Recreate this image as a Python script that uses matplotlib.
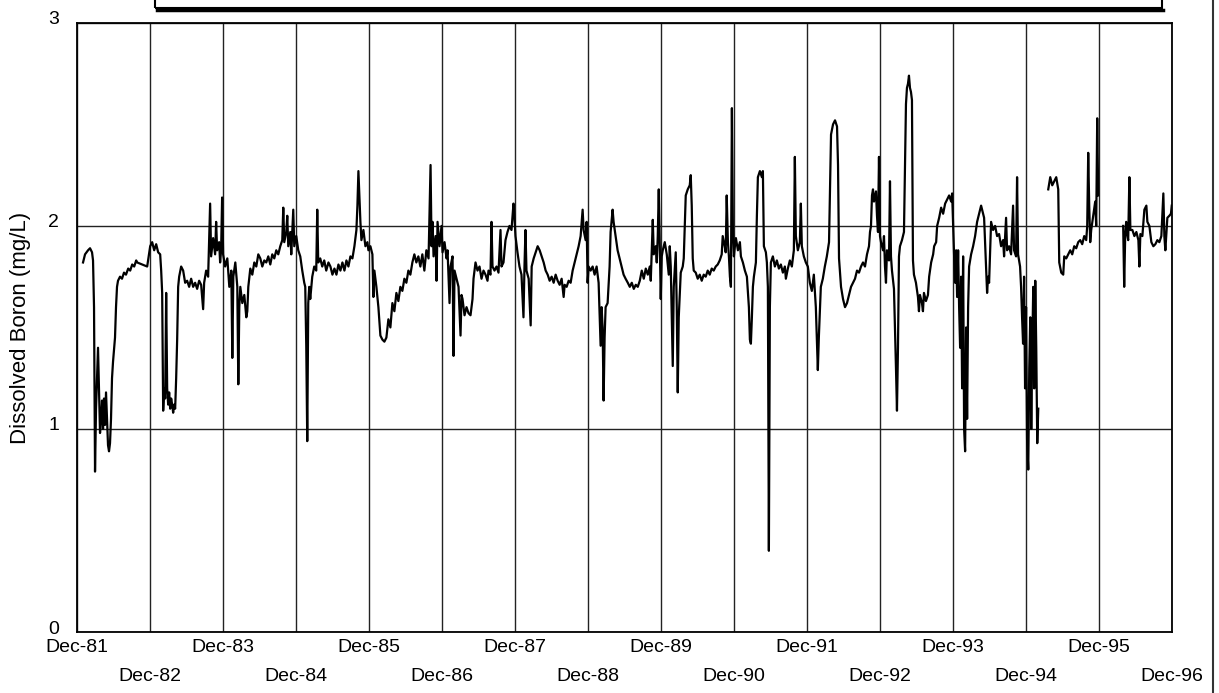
import numpy as np
import matplotlib
matplotlib.use("Agg")
import matplotlib.pyplot as plt
import matplotlib.dates as mdates
from matplotlib.patches import Rectangle
from matplotlib.lines import Line2D
from matplotlib.transforms import ScaledTranslation

plt.rcParams['font.family'] = ['Liberation Sans', 'DejaVu Sans']

# days after 1 Dec 1981 (nan = gap in record)
days = [
    30, 40, 55, 65, 75, 80, 85, 90, 95, 105, 110, 115,
    120, 125, 130, 135, 140, 145, 150, 155, 160, 165, 170, 175,
    180, 185, 190, 195, 200, 205, 215, 225, 235, 245, 256, 266,
    276, 286, 296, 301, 351, 366, 376, 386, 396, 406, 416, 421,
    426, 431, 436, 441, 446, 451, 456, 461, 466, 471, 476, 481,
    486, 491, 496, 501, 506, 511, 521, 531, 541, 551, 561, 571,
    581, 591, 601, 611, 621, 631, 636, 646, 656, 666, 671, 681,
    691, 696, 701, 711, 716, 721, 726, 731, 741, 752, 762, 772,
    777, 782, 792, 802, 807, 812, 817, 827, 837, 847, 852, 857,
    867, 877, 887, 897, 907, 917, 927, 937, 947, 957, 967, 977,
    987, 997, 1007, 1017, 1027, 1032, 1037, 1047, 1052, 1057, 1067, 1072,
    1082, 1087, 1097, 1107, 1117, 1127, 1137, 1142, 1147, 1152, 1157, 1162,
    1167, 1177, 1187, 1197, 1202, 1207, 1217, 1227, 1237, 1247, 1258, 1268,
    1278, 1288, 1298, 1308, 1318, 1328, 1338, 1348, 1358, 1368, 1378, 1388,
    1398, 1403, 1408, 1413, 1418, 1423, 1433, 1443, 1453, 1458, 1468, 1478,
    1483, 1488, 1498, 1508, 1518, 1528, 1538, 1548, 1558, 1568, 1578, 1588,
    1598, 1608, 1618, 1628, 1638, 1648, 1658, 1668, 1678, 1688, 1698, 1708,
    1718, 1728, 1738, 1748, 1759, 1769, 1774, 1779, 1784, 1794, 1799, 1804,
    1814, 1824, 1829, 1839, 1849, 1854, 1864, 1869, 1879, 1884, 1889, 1899,
    1909, 1919, 1924, 1929, 1939, 1949, 1959, 1969, 1979, 1984, 1994, 2004,
    2014, 2024, 2034, 2044, 2054, 2059, 2069, 2074, 2079, 2089, 2099, 2109,
    2119, 2124, 2134, 2144, 2154, 2164, 2174, 2184, 2189, 2194, 2204, 2214,
    2224, 2234, 2239, 2244, 2249, 2260, 2270, 2275, 2285, 2295, 2305, 2315,
    2325, 2335, 2345, 2355, 2365, 2375, 2385, 2395, 2405, 2415, 2425, 2435,
    2440, 2450, 2460, 2470, 2480, 2490, 2500, 2510, 2520, 2530, 2535, 2545,
    2550, 2555, 2560, 2570, 2580, 2590, 2600, 2610, 2620, 2625, 2630, 2635,
    2640, 2645, 2655, 2665, 2670, 2680, 2685, 2695, 2705, 2715, 2725, 2735,
    2745, 2756, 2766, 2776, 2786, 2796, 2806, 2816, 2826, 2836, 2846, 2856,
    2866, 2871, 2881, 2886, 2896, 2901, 2906, 2911, 2916, 2921, 2926, 2931,
    2941, 2951, 2961, 2966, 2971, 2981, 2986, 2996, 3001, 3006, 3011, 3021,
    3031, 3036, 3046, 3056, 3066, 3071, 3076, 3081, 3086, 3096, 3106, 3116,
    3126, 3136, 3146, 3156, 3166, 3176, 3186, 3196, 3206, 3216, 3226, 3231,
    3241, 3246, 3251, 3257, 3262, 3267, 3272, 3277, 3282, 3287, 3292, 3297,
    3307, 3317, 3322, 3332, 3342, 3352, 3362, 3367, 3372, 3377, 3382, 3387,
    3397, 3402, 3407, 3417, 3427, 3432, 3437, 3447, 3452, 3457, 3462, 3467,
    3472, 3482, 3492, 3502, 3512, 3522, 3532, 3542, 3547, 3557, 3567, 3577,
    3587, 3592, 3597, 3607, 3617, 3622, 3627, 3637, 3647, 3657, 3667, 3677,
    3687, 3697, 3707, 3712, 3722, 3732, 3742, 3752, 3763, 3773, 3783, 3793,
    3803, 3808, 3813, 3823, 3833, 3843, 3853, 3863, 3873, 3883, 3893, 3903,
    3913, 3923, 3933, 3943, 3953, 3963, 3968, 3973, 3978, 3983, 3988, 3998,
    4003, 4008, 4013, 4018, 4023, 4033, 4038, 4043, 4048, 4053, 4063, 4068,
    4073, 4078, 4088, 4093, 4098, 4103, 4108, 4113, 4118, 4128, 4138, 4148,
    4153, 4158, 4163, 4168, 4173, 4178, 4183, 4188, 4198, 4208, 4213, 4218,
    4228, 4233, 4238, 4248, 4258, 4264, 4274, 4284, 4289, 4299, 4304, 4314,
    4324, 4334, 4344, 4354, 4364, 4374, 4379, 4384, 4389, 4394, 4399, 4404,
    4409, 4414, 4419, 4424, 4429, 4434, 4439, 4444, 4449, 4454, 4459, 4464,
    4474, 4484, 4494, 4504, 4514, 4524, 4529, 4539, 4549, 4554, 4559, 4564,
    4574, 4584, 4594, 4604, 4614, 4624, 4634, 4639, 4649, 4654, 4664, 4674,
    4684, 4689, 4699, 4704, 4709, 4719, 4724, 4729, 4734, 4739, 4744, 4749,
    4754, 4760, 4765, 4770, 4775, 4780, 4785, 4790, 4795, 4800, 4805, 4810,
    4835,
    4860, 4870, 4880, 4890, 4900, 4910, 4915, 4925, 4935, 4940, 4950, 4960,
    4970, 4980, 4990, 5000, 5010, 5020, 5030, 5040, 5050, 5055, 5060, 5065,
    5070, 5075, 5085, 5095, 5100, 5105, 5110,
    5170,
    5235, 5240, 5245, 5250, 5255, 5260, 5266, 5271, 5281, 5291, 5301, 5311,
    5316, 5321, 5331, 5341, 5351, 5356, 5366, 5376, 5386, 5396, 5406, 5416,
    5426, 5436, 5441, 5446, 5456, 5466, 5474, 5478,
]

# dissolved boron, mg/L
boron = [
    1.82, 1.86, 1.88, 1.89, 1.87, 1.83, 1.60, 0.79, 1.10, 1.40, 1.20, 0.98,
    1.05, 1.14, 1.00, 1.15, 1.02, 1.18, 1.05, 0.92, 0.89, 0.93, 1.05, 1.25,
    1.33, 1.39, 1.45, 1.60, 1.70, 1.73, 1.75, 1.74, 1.77, 1.76, 1.79, 1.78,
    1.81, 1.80, 1.83, 1.82, 1.80, 1.90, 1.92, 1.88, 1.91, 1.87, 1.86, 1.78,
    1.67, 1.09, 1.20, 1.15, 1.67, 1.20, 1.12, 1.18, 1.10, 1.15, 1.12, 1.08,
    1.12, 1.10, 1.25, 1.44, 1.70, 1.75, 1.80, 1.78, 1.72, 1.73, 1.70, 1.74,
    1.70, 1.72, 1.69, 1.73, 1.71, 1.59, 1.72, 1.78, 1.75, 2.11, 1.85, 1.94,
    1.86, 2.02, 1.88, 1.92, 1.82, 1.88, 2.14, 1.86, 1.80, 1.84, 1.70, 1.78,
    1.35, 1.75, 1.82, 1.70, 1.22, 1.60, 1.70, 1.62, 1.66, 1.55, 1.58, 1.70,
    1.79, 1.76, 1.82, 1.80, 1.86, 1.84, 1.80, 1.83, 1.82, 1.85, 1.81, 1.86,
    1.84, 1.88, 1.86, 1.90, 1.93, 2.09, 1.92, 1.97, 2.05, 1.90, 1.97, 1.86,
    2.08, 1.90, 1.95, 1.88, 1.85, 1.78, 1.72, 1.70, 1.41, 0.94, 1.62, 1.70,
    1.64, 1.75, 1.80, 1.78, 2.08, 1.82, 1.84, 1.80, 1.83, 1.78, 1.82, 1.80,
    1.76, 1.79, 1.76, 1.81, 1.78, 1.82, 1.78, 1.83, 1.80, 1.85, 1.84, 1.90,
    1.98, 2.10, 2.27, 2.15, 2.02, 1.93, 1.98, 1.90, 1.92, 1.88, 1.90, 1.86,
    1.65, 1.78, 1.70, 1.60, 1.46, 1.44, 1.43, 1.45, 1.54, 1.50, 1.62, 1.58,
    1.67, 1.63, 1.70, 1.68, 1.74, 1.72, 1.78, 1.76, 1.82, 1.86, 1.82, 1.85,
    1.80, 1.86, 1.78, 1.88, 1.84, 2.30, 1.90, 2.02, 1.85, 1.95, 1.73, 2.02,
    1.90, 2.00, 1.87, 1.92, 1.84, 1.88, 1.62, 1.80, 1.85, 1.36, 1.78, 1.74,
    1.70, 1.46, 1.66, 1.64, 1.56, 1.60, 1.57, 1.56, 1.64, 1.74, 1.82, 1.78,
    1.80, 1.74, 1.78, 1.76, 1.73, 1.78, 1.76, 2.02, 1.80, 1.78, 1.80, 1.77,
    1.98, 1.80, 1.82, 1.93, 1.97, 2.00, 1.98, 2.11, 2.04, 1.95, 1.87, 1.80,
    1.76, 1.55, 1.80, 1.98, 1.78, 1.74, 1.51, 1.80, 1.84, 1.87, 1.90, 1.88,
    1.85, 1.82, 1.78, 1.76, 1.73, 1.75, 1.72, 1.76, 1.73, 1.71, 1.74, 1.65,
    1.71, 1.70, 1.73, 1.72, 1.78, 1.82, 1.86, 1.90, 1.95, 2.08, 1.98, 1.93,
    2.02, 1.72, 1.80, 1.78, 1.80, 1.76, 1.80, 1.72, 1.41, 1.60, 1.50, 1.14,
    1.45, 1.60, 1.62, 1.80, 1.97, 2.08, 2.02, 1.95, 1.88, 1.84, 1.80, 1.76,
    1.74, 1.72, 1.70, 1.72, 1.69, 1.71, 1.70, 1.73, 1.78, 1.74, 1.79, 1.76,
    1.80, 1.73, 2.03, 1.86, 1.90, 1.82, 1.95, 2.18, 1.90, 1.64, 1.85, 1.88,
    1.92, 1.86, 1.76, 1.90, 1.80, 1.31, 1.70, 1.87, 1.60, 1.18, 1.55, 1.77,
    1.80, 1.84, 2.15, 2.18, 2.20, 2.25, 2.10, 1.84, 1.78, 1.77, 1.74, 1.76,
    1.73, 1.76, 1.75, 1.78, 1.76, 1.79, 1.78, 1.80, 1.81, 1.83, 1.86, 1.95,
    1.90, 1.87, 2.15, 1.92, 1.85, 1.75, 1.70, 2.58, 1.98, 1.85, 1.90, 1.94,
    1.88, 1.92, 1.85, 1.82, 1.78, 1.75, 1.60, 1.44, 1.42, 1.55, 1.70, 1.75,
    1.82, 2.05, 2.24, 2.27, 2.24, 2.27, 1.90, 1.87, 1.82, 1.70, 0.40, 1.60,
    1.82, 1.85, 1.80, 1.83, 1.79, 1.81, 1.77, 1.80, 1.74, 1.79, 1.83, 1.80,
    1.88, 2.34, 1.95, 1.88, 1.92, 2.11, 1.90, 1.85, 1.82, 1.80, 1.72, 1.68,
    1.76, 1.60, 1.29, 1.45, 1.70, 1.74, 1.80, 1.85, 1.92, 2.45, 2.50, 2.52,
    2.49, 2.30, 1.84, 1.70, 1.64, 1.60, 1.62, 1.66, 1.70, 1.72, 1.74, 1.78,
    1.77, 1.80, 1.82, 1.80, 1.86, 1.90, 1.97, 2.00, 2.15, 2.18, 2.12, 2.17,
    2.05, 1.97, 2.34, 1.95, 1.92, 1.88, 1.95, 1.80, 1.72, 1.88, 1.83, 2.22,
    1.85, 1.78, 1.69, 1.50, 1.30, 1.09, 1.40, 1.85, 1.90, 1.93, 1.97, 2.60,
    2.68, 2.70, 2.74, 2.68, 2.66, 2.62, 1.83, 1.76, 1.72, 1.65, 1.58, 1.66,
    1.62, 1.58, 1.67, 1.63, 1.66, 1.75, 1.82, 1.86, 1.90, 1.92, 2.00, 2.04,
    2.09, 2.06, 2.11, 2.13, 2.15, 2.12, 2.16, 2.00, 1.85, 1.72, 1.88, 1.65,
    1.88, 1.60, 1.40, 1.75, 1.20, 1.85, 1.00, 0.89, 1.50, 1.05, 1.60, 1.80,
    1.86, 1.90, 1.95, 2.02, 2.06, 2.10, 2.08, 2.04, 1.80, 1.67, 1.75, 1.72,
    2.02, 1.98, 2.00, 1.95, 1.96, 1.90, 1.93, 1.85, 2.04, 1.88, 1.90, 1.86,
    2.10, 1.88, 1.85, 2.24, 1.86, 1.80, 1.70, 1.55, 1.42, 1.75, 1.20, 1.60,
    0.95, 0.80, 1.30, 1.55, 1.00, 1.40, 1.70, 1.20, 1.73, 1.40, 0.93, 1.10,
    np.nan,
    2.18, 2.24, 2.20, 2.22, 2.24, 2.18, 1.82, 1.77, 1.76, 1.85, 1.84, 1.86,
    1.88, 1.86, 1.90, 1.89, 1.92, 1.93, 1.91, 1.95, 1.93, 2.00, 2.36, 2.10,
    1.92, 1.98, 2.05, 2.12, 2.00, 2.53, 2.15,
    np.nan,
    2.00, 1.70, 1.95, 2.02, 1.96, 1.93, 2.24, 1.98, 1.98, 1.95, 1.97, 1.93,
    1.80, 1.96, 1.95, 2.08, 2.10, 2.02, 2.00, 1.92, 1.90, 1.91, 1.93, 1.92,
    1.95, 2.16, 1.95, 1.88, 2.04, 2.05, 2.06, 2.10,
]

tick_years = list(range(1981, 1997))
y_ticks = [0, 1, 2, 3]

start = np.datetime64('1981-12-01')
dates = start + np.array(days, dtype='timedelta64[D]')
x = mdates.date2num(dates)

fig = plt.figure(figsize=(12.19, 6.93), dpi=100)
ax = fig.add_axes([0.0632, 0.088, 0.8982, 0.879])

ax.plot(x, boron, color='black', lw=1.6)

tick_pos = [mdates.date2num(np.datetime64(f'{y}-12-01')) for y in tick_years]
tick_lab = [f'Dec-{y % 100:02d}' for y in tick_years]
ax.set_xticks(tick_pos[0::2])
ax.set_xticklabels(tick_lab[0::2])
ax.set_xticks(tick_pos[1::2], minor=True)
ax.set_xticklabels(tick_lab[1::2], minor=True)
ax.set_xlim(tick_pos[0], tick_pos[-1])

ax.set_ylim(0, 3)
ax.set_yticks(y_ticks)
ax.set_ylabel('Dissolved Boron (mg/L)', fontsize=16, labelpad=12)

ax.tick_params(axis='x', which='major', length=0, pad=5, labelsize=14)
ax.tick_params(axis='x', which='minor', length=0, pad=26, labelsize=14)
ax.tick_params(axis='y', length=0, pad=13, labelsize=14)

# y labels sit a little above their gridlines in the original
up = ScaledTranslation(0, 5 / 100, fig.dpi_scale_trans)
for lab in ax.get_yticklabels():
    lab.set_transform(lab.get_transform() + up)

ax.grid(axis='x', which='both', color='#222222', lw=1.0)
ax.grid(axis='y', which='major', color='#222222', lw=1.0)
ax.set_axisbelow(True)
for s in ax.spines.values():
    s.set_linewidth(1.3)
    s.set_color('black')

# partial legend/title box cut off at the top of the page
fig.patches.append(Rectangle((0.127, 0.988), 0.826, 0.1, transform=fig.transFigure,
                             fill=False, ec='black', lw=1.5, clip_on=False))
fig.lines.append(Line2D([0.129, 0.954], [0.986, 0.986], transform=fig.transFigure,
                        color='black', lw=2.5))
# page edge
fig.lines.append(Line2D([0.995, 0.995], [0, 1], transform=fig.transFigure,
                        color='#333333', lw=1.5))

fig.savefig('out.png', dpi=100)
